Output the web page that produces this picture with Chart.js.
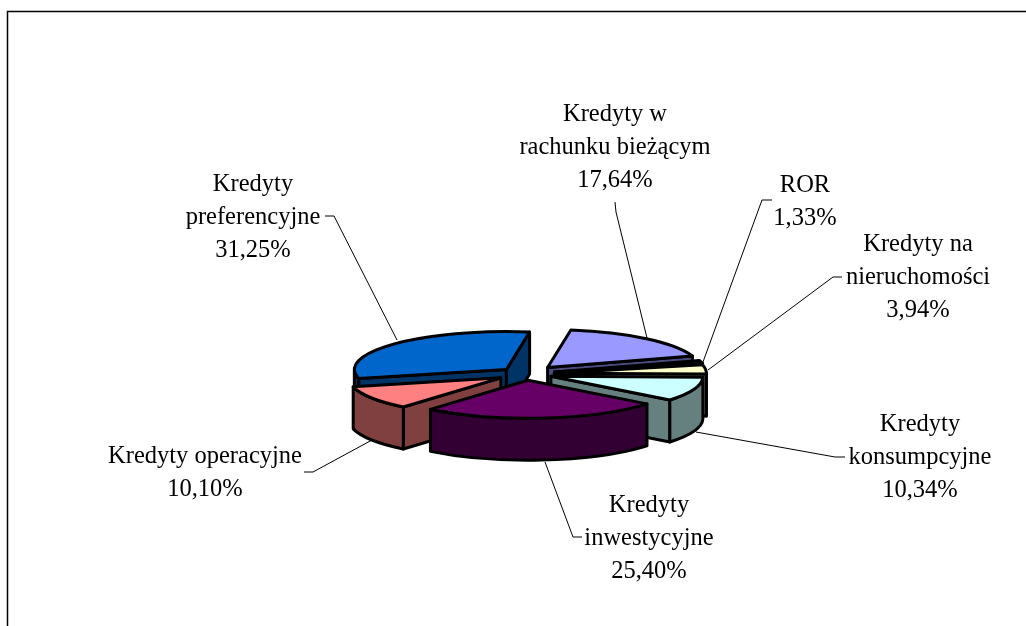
<!DOCTYPE html>
<html>
<head>
<meta charset="utf-8">
<title>Kredyty</title>
<script src="https://cdn.jsdelivr.net/npm/chart.js@4"></script>
<style>
  html, body { margin: 0; padding: 0; background: #fff; }
  canvas { display: block; }
</style>
</head>
<body>
<canvas id="myChart" width="1026" height="626"></canvas>
<script>
// data, clockwise from the start angle
const categories = ['Kredyty w rachunku bieżącym', 'ROR', 'Kredyty na nieruchomości', 'Kredyty konsumpcyjne', 'Kredyty inwestycyjne', 'Kredyty operacyjne', 'Kredyty preferencyjne'];
const values = [17.64, 1.33, 3.94, 10.34, 25.40, 10.10, 31.25];
const valueLabels = ['17,64%', '1,33%', '3,94%', '10,34%', '25,40%', '10,10%', '31,25%'];

// label text split in lines
const labelLines = [['Kredyty w', 'rachunku bieżącym'], ['ROR'], ['Kredyty na', 'nieruchomości'], ['Kredyty', 'konsumpcyjne'], ['Kredyty', 'inwestycyjne'], ['Kredyty operacyjne'], ['Kredyty', 'preferencyjne']];

// look of the slices
const topColors = ['#9999FF', '#993366', '#FFFFCC', '#CCFFFF', '#660066', '#FF8080', '#0066CC'];
const sideColors = ['#4C4C80', '#4C1933', '#808066', '#668080', '#330033', '#804040', '#003366'];
const explode = [34, 30, 29, 27, 25, 29, 26];
const drawOrder = [6, 0, 1, 2, 3, 5, 4];
const squash = 0.25;
const depth = 42;

// label placement: centre x, first baseline, leader line
const labelX = [615, 805, 918, 920, 649, 205, 253];
const labelY = [121, 192, 251, 431, 512, 463, 191];
const leaders = [
  [[615, 202], [616, 212], [647, 338]],
  [[772, 200], [762, 200], [703, 362]],
  [[842, 277], [833, 277], [708, 370]],
  [[845, 457], [835, 457], [696, 432]],
  [[582, 537], [573, 537], [545, 462]],
  [[304, 472], [313, 472], [372, 440]],
  [[325, 216], [334, 216], [397, 340]]
];

// draws the flattened pie from the arc elements of the chart
const flatPie = {
  id: 'flatPie',
  beforeDatasetsDraw(chart) {
    const c = chart.ctx;
    const arcs = chart.getDatasetMeta(0).data;

    c.save();
    c.lineWidth = 3;
    c.lineJoin = 'round';
    c.strokeStyle = '#000';

    drawOrder.forEach(function (i) {
      const arc = arcs[i];
      const s = arc.startAngle;
      const e = arc.endAngle;
      const mid = (s + e) / 2;
      const r = arc.outerRadius;
      const cx = arc.x + explode[i] * Math.cos(mid);
      const cy = arc.y + explode[i] * squash * Math.sin(mid);
      const px = function (a) { return cx + r * Math.cos(a); };
      const py = function (a) { return cy + r * squash * Math.sin(a); };

      function paint(color) {
        c.closePath();
        c.fillStyle = color;
        c.fill();
        c.stroke();
      }

      function radialWall(a) {
        c.beginPath();
        c.moveTo(cx, cy);
        c.lineTo(px(a), py(a));
        c.lineTo(px(a), py(a) + depth);
        c.lineTo(cx, cy + depth);
        paint(sideColors[i]);
      }

      // only walls facing the viewer
      if (Math.cos(s) < 0) radialWall(s);
      if (Math.cos(e) > 0) radialWall(e);

      const from = Math.max(s, 0);
      const to = Math.min(e, Math.PI);
      if (to > from) {
        c.beginPath();
        c.ellipse(cx, cy, r, r * squash, 0, from, to);
        c.ellipse(cx, cy + depth, r, r * squash, 0, to, from, true);
        paint(sideColors[i]);
      }

      c.beginPath();
      c.moveTo(cx, cy);
      c.ellipse(cx, cy, r, r * squash, 0, s, e);
      paint(topColors[i]);
    });
    c.restore();

    return false;
  },
  // afterDatasetsDraw does not fire once the datasets draw is cancelled
  afterDraw(chart) {
    const c = chart.ctx;
    c.save();

    // frame of the original chart, cut by the picture on two sides
    c.strokeStyle = '#000';
    c.lineWidth = 1.5;
    c.beginPath();
    c.moveTo(7.5, 626);
    c.lineTo(7.5, 11.5);
    c.lineTo(1026, 11.5);
    c.stroke();

    // leader lines
    c.lineWidth = 1;
    leaders.forEach(function (line) {
      c.beginPath();
      line.forEach(function (p, n) {
        if (n === 0) c.moveTo(p[0], p[1]);
        else c.lineTo(p[0], p[1]);
      });
      c.stroke();
    });

    // labels
    c.fillStyle = '#000';
    c.font = '24.5px "Liberation Serif"';
    c.textAlign = 'center';
    categories.forEach(function (name, i) {
      labelLines[i].concat(valueLabels[i]).forEach(function (text, n) {
        c.fillText(text, labelX[i], labelY[i] + n * 33);
      });
    });
    c.restore();
  }
};

new Chart(document.getElementById('myChart'), {
  type: 'pie',
  data: {
    labels: categories,
    datasets: [{
      data: values,
      backgroundColor: topColors,
      borderColor: '#000',
      borderWidth: 2,
      radius: 152
    }]
  },
  options: {
    responsive: false,
    animation: false,
    rotation: 8.8,
    layout: { padding: { top: 122, left: 25, right: 0, bottom: 0 } },
    plugins: {
      legend: { display: false },
      tooltip: { enabled: false }
    }
  },
  plugins: [flatPie]
});
</script>
</body>
</html>
